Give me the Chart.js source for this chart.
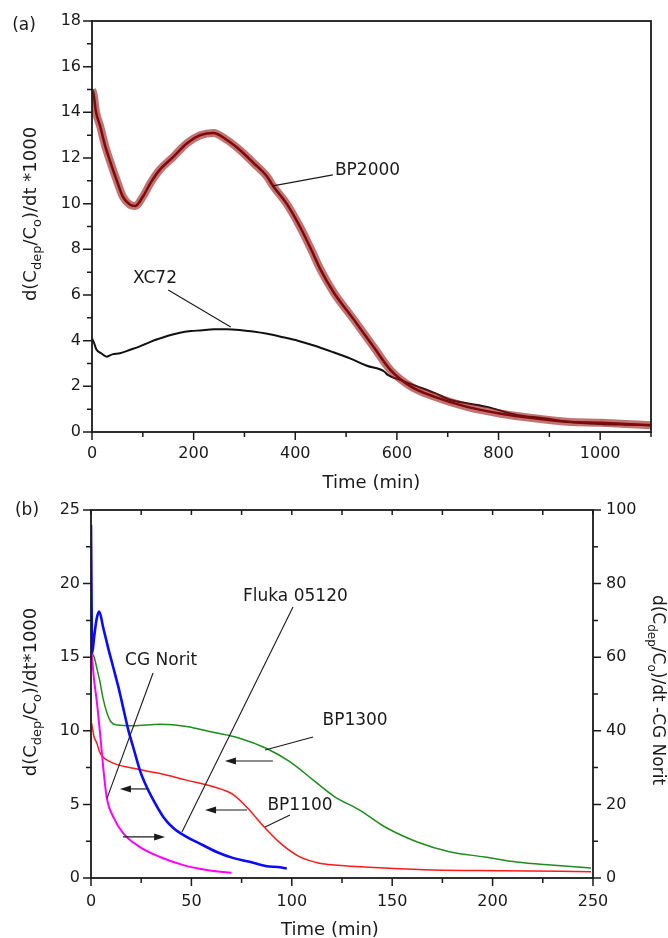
<!DOCTYPE html>
<html>
<head>
<meta charset="utf-8">
<script src="https://cdn.jsdelivr.net/npm/chart.js@4.4.1/dist/chart.umd.min.js"></script>
<style>
  html, body { margin: 0; padding: 0; background: #fff; }
  body { width: 668px; height: 938px; position: relative; overflow: hidden; }
  canvas { position: absolute; left: 0; }
  #chartA { top: 0; }
  #chartB { top: 480px; }
</style>
</head>
<body>
<canvas id="chartA" width="668" height="500"></canvas>
<canvas id="chartB" width="668" height="458"></canvas>
<script>
// ---- panel (a) data: time (min) / rate *1000 ----
const bp2000T = [0, 3, 8, 16, 25, 35, 49, 61, 75, 85, 100, 115, 134, 160, 187, 213, 239, 265, 291, 317, 344, 357, 383, 409, 429, 450, 476, 516, 555, 588, 627, 673, 738, 805, 870, 935, 1001, 1050, 1100];
const bp2000V = [15.0, 14.8, 14.0, 13.4, 12.6, 11.9, 11.0, 10.3, 9.95, 9.9, 10.3, 10.9, 11.5, 12.05, 12.65, 13.0, 13.1, 12.8, 12.35, 11.8, 11.2, 10.75, 10.0, 9.0, 8.1, 7.1, 6.1, 4.9, 3.7, 2.7, 2.0, 1.55, 1.1, 0.8, 0.6, 0.45, 0.4, 0.35, 0.3];

const xc72T = [0, 4, 9, 18, 29, 40, 55, 75, 94, 115, 134, 155, 173, 195, 213, 240, 265, 290, 317, 345, 376, 405, 435, 474, 510, 541, 575, 582, 610, 640, 675, 706, 740, 777, 836, 890, 935, 1000, 1050, 1100];
const xc72V = [4.1, 3.9, 3.6, 3.45, 3.3, 3.4, 3.45, 3.6, 3.75, 3.95, 4.1, 4.25, 4.35, 4.42, 4.45, 4.5, 4.5, 4.47, 4.4, 4.3, 4.15, 4.0, 3.8, 3.5, 3.2, 2.9, 2.65, 2.5, 2.25, 2.0, 1.7, 1.4, 1.25, 1.1, 0.75, 0.6, 0.45, 0.35, 0.32, 0.3];

// ---- panel (b) data ----
const flukaT = [0, 0.6, 1.5, 2.8, 4.1, 6.1, 8.6, 11.1, 13.6, 15.3, 18.5, 21, 24.4, 27, 31, 36, 41, 47.6, 54, 62.6, 71, 79, 87.5, 93, 97.5];
const flukaV = [24.0, 15.3, 16.3, 17.6, 18.1, 17.0, 15.6, 14.3, 13.0, 12.0, 10.1, 8.9, 7.3, 6.4, 5.3, 4.15, 3.4, 2.8, 2.35, 1.77, 1.35, 1.1, 0.8, 0.75, 0.65];

const bp1300T = [0.5, 1.6, 3, 4.5, 6, 8, 10, 12.8, 21, 34.4, 47.6, 60.8, 74, 87.5, 99, 110.7, 121, 134, 146, 162.5, 179, 196, 212, 229, 249];
const bp1300V = [15.3, 15.0, 14.2, 13.3, 12.2, 11.2, 10.6, 10.4, 10.35, 10.45, 10.3, 9.9, 9.5, 8.8, 7.9, 6.65, 5.55, 4.6, 3.5, 2.45, 1.77, 1.43, 1.09, 0.88, 0.68];

const bp1100T = [0.3, 1.5, 2.8, 4.5, 9.5, 21, 34.4, 47.6, 61, 71, 79, 86, 94, 104, 114, 121, 146, 171, 204, 249];
const bp1100V = [10.5, 9.6, 9.2, 8.5, 7.9, 7.45, 7.1, 6.65, 6.2, 5.65, 4.6, 3.5, 2.4, 1.43, 1.0, 0.88, 0.68, 0.54, 0.5, 0.43];

// CG Norit is read on the right axis (0-100)
const noritT = [0.3, 1.5, 2.8, 4.5, 6.1, 7.8, 11.1, 16, 24.4, 34.4, 46, 57.6, 70];
const noritV = [61.2, 54, 48.4, 39.4, 30, 22, 16.6, 12.2, 8.4, 5.7, 3.5, 2.2, 1.4];

const FONT = '"DejaVu Sans", sans-serif';
const INK = '#1a1a1a';

function pts(ts, vs) {
    return ts.map((t, i) => ({ x: t, y: vs[i] }));
}

// text with subscripts, centred on (x, y), rotated by angle
function richText(ctx, parts, x, y, angle, size) {
    const sub = Math.round(size * 0.72);
    ctx.save();
    ctx.translate(x, y);
    ctx.rotate(angle);
    ctx.textBaseline = 'middle';
    ctx.textAlign = 'left';
    ctx.fillStyle = INK;
    let total = 0;
    parts.forEach(p => {
        ctx.font = (p.sub ? sub : size) + 'px ' + FONT;
        total += ctx.measureText(p.t).width;
    });
    let cx = -total / 2;
    parts.forEach(p => {
        ctx.font = (p.sub ? sub : size) + 'px ' + FONT;
        ctx.fillText(p.t, cx, p.sub ? size * 0.36 : 0);
        cx += ctx.measureText(p.t).width;
    });
    ctx.restore();
}

// tick marks along a scale; dir = 'left' | 'right' | 'down' | 'in-top'
function tickMarks(ctx, scale, step, major, lenMajor, lenMinor, dir) {
    const area = scale.chart.chartArea;
    ctx.save();
    ctx.strokeStyle = INK;
    ctx.lineWidth = 1.5;
    ctx.beginPath();
    for (let v = scale.min; v <= scale.max + 1e-9; v += step) {
        const isMajor = Math.abs(v / major - Math.round(v / major)) < 1e-6;
        const len = isMajor ? lenMajor : lenMinor;
        const p = scale.getPixelForValue(v);
        if (dir === 'left') { ctx.moveTo(area.left, p); ctx.lineTo(area.left - len, p); }
        if (dir === 'right') { ctx.moveTo(area.right, p); ctx.lineTo(area.right + len, p); }
        if (dir === 'down') { ctx.moveTo(p, area.bottom); ctx.lineTo(p, area.bottom + len); }
        if (dir === 'in-top') { ctx.moveTo(p, area.top); ctx.lineTo(p, area.top + len); }
    }
    ctx.stroke();
    ctx.restore();
}

function frame(ctx, area) {
    ctx.save();
    ctx.strokeStyle = INK;
    ctx.lineWidth = 1.8;
    ctx.strokeRect(area.left, area.top, area.right - area.left, area.bottom - area.top);
    ctx.restore();
}

function leader(ctx, sx, sy, a, b) {
    ctx.save();
    ctx.strokeStyle = INK;
    ctx.lineWidth = 1.1;
    ctx.beginPath();
    ctx.moveTo(sx.getPixelForValue(a[0]), sy.getPixelForValue(a[1]));
    ctx.lineTo(sx.getPixelForValue(b[0]), sy.getPixelForValue(b[1]));
    ctx.stroke();
    ctx.restore();
}

function label(ctx, sx, sy, text, at, align) {
    ctx.save();
    ctx.font = '17px ' + FONT;
    ctx.fillStyle = INK;
    ctx.textAlign = align || 'center';
    ctx.textBaseline = 'middle';
    ctx.fillText(text, sx.getPixelForValue(at[0]), sy.getPixelForValue(at[1]));
    ctx.restore();
}

// horizontal arrow from t1 to t2 (head at t2)
function arrow(ctx, sx, sy, t1, t2, v) {
    const x1 = sx.getPixelForValue(t1), x2 = sx.getPixelForValue(t2), y = sy.getPixelForValue(v);
    const d = x2 > x1 ? 1 : -1;
    ctx.save();
    ctx.strokeStyle = INK;
    ctx.fillStyle = INK;
    ctx.lineWidth = 1.2;
    ctx.beginPath();
    ctx.moveTo(x1, y);
    ctx.lineTo(x2 - d * 8, y);
    ctx.stroke();
    ctx.beginPath();
    ctx.moveTo(x2, y);
    ctx.lineTo(x2 - d * 11, y - 3.5);
    ctx.lineTo(x2 - d * 11, y + 3.5);
    ctx.closePath();
    ctx.fill();
    ctx.restore();
}

const panelA = {
    id: 'panelA',
    afterDraw(chart) {
        const ctx = chart.ctx, a = chart.chartArea, sx = chart.scales.x, sy = chart.scales.y;
        tickMarks(ctx, sy, 1, 2, 9, 5, 'left');
        tickMarks(ctx, sx, 100, 200, 8, 5, 'down');
        frame(ctx, a);
        leader(ctx, sx, sy, [356, 10.78], [474, 11.26]);
        label(ctx, sx, sy, 'BP2000', [478, 11.43], 'left');
        leader(ctx, sx, sy, [150, 6.22], [273, 4.6]);
        label(ctx, sx, sy, 'XC72', [124, 6.7]);
        ctx.save();
        ctx.font = '18px ' + FONT;
        ctx.fillStyle = INK;
        ctx.textAlign = 'center';
        ctx.textBaseline = 'middle';
        ctx.fillText('Time (min)', (a.left + a.right) / 2, 483);
        ctx.font = '17px ' + FONT;
        ctx.fillText('(a)', 24, 26);
        ctx.restore();
        richText(ctx, [{ t: 'd(C' }, { t: 'dep', sub: true }, { t: '/C' }, { t: 'o', sub: true }, { t: ')/dt *1000' }],
            31, 214, -Math.PI / 2, 18);
    }
};

const panelB = {
    id: 'panelB',
    afterDraw(chart) {
        const ctx = chart.ctx, a = chart.chartArea, sx = chart.scales.x, sy = chart.scales.y, sy2 = chart.scales.y2;
        tickMarks(ctx, sy, 2.5, 5, 8, 5, 'left');
        tickMarks(ctx, sy2, 10, 20, 8, 5, 'right');
        tickMarks(ctx, sx, 25, 50, 8, 5, 'down');
        tickMarks(ctx, sx, 25, 25, 5, 5, 'in-top');
        frame(ctx, a);
        label(ctx, sx, sy, 'CG Norit', [34.9, 14.74]);
        leader(ctx, sx, sy, [30.9, 13.93], [8.0, 5.43]);
        label(ctx, sx, sy, 'Fluka 05120', [101.8, 19.09]);
        leader(ctx, sx, sy, [100.6, 18.41], [45.3, 3.13]);
        label(ctx, sx, sy, 'BP1300', [131.5, 10.67]);
        leader(ctx, sx, sy, [110.6, 9.58], [86.7, 8.7]);
        label(ctx, sx, sy, 'BP1100', [104.1, 4.89]);
        leader(ctx, sx, sy, [99.1, 4.28], [86.7, 3.46]);
        arrow(ctx, sx, sy, 90.6, 66.7, 7.95);
        arrow(ctx, sx, sy, 77.7, 56.8, 4.62);
        arrow(ctx, sx, sy, 27.9, 14.4, 6.05);
        arrow(ctx, sx, sy, 15.9, 36.9, 2.79);
        ctx.save();
        ctx.font = '18px ' + FONT;
        ctx.fillStyle = INK;
        ctx.textAlign = 'center';
        ctx.textBaseline = 'middle';
        ctx.fillText('Time (min)', (a.left + a.right) / 2 - 12, 450);
        ctx.font = '17px ' + FONT;
        ctx.fillText('(b)', 27, 31);
        ctx.restore();
        richText(ctx, [{ t: 'd(C' }, { t: 'dep', sub: true }, { t: '/C' }, { t: 'o', sub: true }, { t: ')/dt*1000' }],
            31, 212, -Math.PI / 2, 18);
        richText(ctx, [{ t: 'd(C' }, { t: 'dep', sub: true }, { t: '/C' }, { t: 'o', sub: true }, { t: ')/dt -CG Norit' }],
            657, 210, Math.PI / 2, 17);
    }
};

function linear(min, max, step, pad, extra) {
    return Object.assign({
        type: 'linear', min: min, max: max,
        grid: { display: false, drawTicks: false },
        border: { display: false },
        ticks: {
            stepSize: step, includeBounds: false, padding: pad, color: INK,
            font: { family: FONT, size: 16 },
            callback: v => String(v)
        }
    }, extra);
}

const lineBase = { pointRadius: 0, cubicInterpolationMode: 'monotone', fill: false };

new Chart(document.getElementById('chartA'), {
    type: 'line',
    data: {
        datasets: [
            Object.assign({ label: 'BP2000 core', data: pts(bp2000T, bp2000V), borderColor: '#800808', borderWidth: 2.5 }, lineBase),
            Object.assign({ label: 'BP2000', data: pts(bp2000T, bp2000V), borderColor: 'rgba(150,22,22,0.6)', borderWidth: 8 }, lineBase),
            Object.assign({ label: 'XC72', data: pts(xc72T, xc72V), borderColor: '#111', borderWidth: 2 }, lineBase)
        ]
    },
    options: {
        responsive: false,
        animation: false,
        events: [],
        layout: { padding: { top: 21, right: 17, left: 0, bottom: 0 } },
        plugins: { legend: { display: false }, tooltip: { enabled: false } },
        scales: {
            x: linear(0, 1100, 200, 12, { afterFit: s => { s.height = 68; } }),
            y: linear(0, 18, 2, 11, { afterFit: s => { s.width = 92; } })
        }
    },
    plugins: [panelA]
});

new Chart(document.getElementById('chartB'), {
    type: 'line',
    data: {
        datasets: [
            Object.assign({ label: 'Fluka 05120', data: pts(flukaT, flukaV), borderColor: '#0a0aff', borderWidth: 2.6, yAxisID: 'y' }, lineBase),
            Object.assign({ label: 'CG Norit', data: pts(noritT, noritV), borderColor: '#ff00ff', borderWidth: 2, yAxisID: 'y2' }, lineBase),
            Object.assign({ label: 'BP1300', data: pts(bp1300T, bp1300V), borderColor: '#1e8c1e', borderWidth: 1.5, yAxisID: 'y' }, lineBase),
            Object.assign({ label: 'BP1100', data: pts(bp1100T, bp1100V), borderColor: '#ff1a1a', borderWidth: 1.5, yAxisID: 'y' }, lineBase)
        ]
    },
    options: {
        responsive: false,
        animation: false,
        events: [],
        layout: { padding: { top: 30, right: 0, left: 0, bottom: 0 } },
        plugins: { legend: { display: false }, tooltip: { enabled: false } },
        scales: {
            x: linear(0, 250, 50, 14, { afterFit: s => { s.height = 60; } }),
            y: linear(0, 25, 5, 11, { afterFit: s => { s.width = 91; } }),
            y2: linear(0, 100, 20, 13, { position: 'right', afterFit: s => { s.width = 75; } })
        }
    },
    plugins: [panelB]
});
</script>
</body>
</html>
